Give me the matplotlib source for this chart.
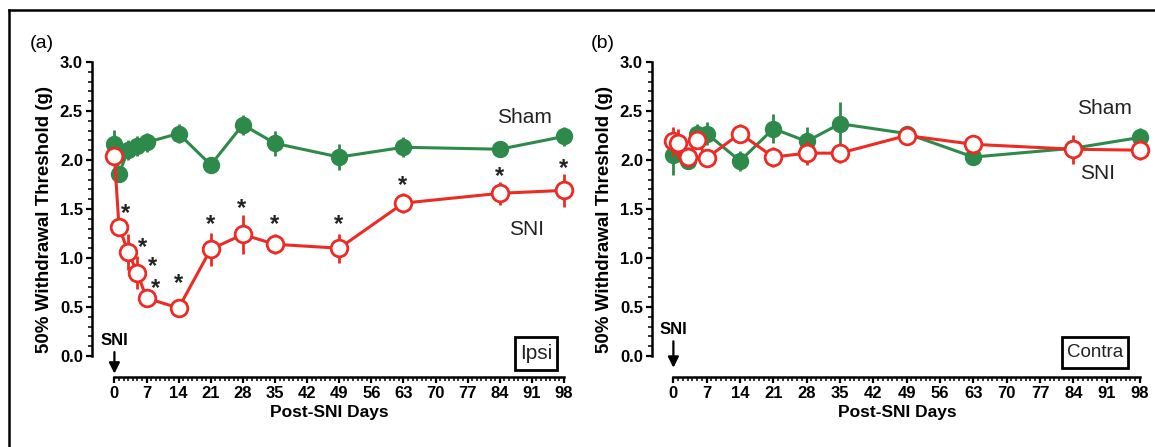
"""
Mechanical withdrawal thresholds after SNI, ipsilateral and contralateral paws.
"""
import numpy as np
import matplotlib.pyplot as plt
from matplotlib.lines import Line2D
from matplotlib.patches import Rectangle
from matplotlib.ticker import FixedLocator

plt.rcParams['font.family'] = ['Liberation Sans', 'DejaVu Sans']

GREEN = "#2e8a4a"
RED = "#ec2b24"

# ---- data ----
days = [0, 1, 3, 5, 7, 14, 21, 28, 35, 49, 63, 84, 98]

ipsi_sham = [2.16, 1.86, 2.10, 2.14, 2.18, 2.27, 1.95, 2.36, 2.17, 2.03, 2.13, 2.11, 2.24]
ipsi_sham_err = [0.15, 0.08, 0.10, 0.10, 0.10, 0.10, 0.05, 0.10, 0.13, 0.13, 0.10, 0.05, 0.10]
ipsi_sni = [2.04, 1.32, 1.06, 0.85, 0.59, 0.49, 1.09, 1.24, 1.14, 1.10, 1.56, 1.66, 1.69]
ipsi_sni_err = [0.05, 0.05, 0.18, 0.17, 0.05, 0.03, 0.17, 0.20, 0.10, 0.15, 0.10, 0.12, 0.17]

contra_sham = [2.05, 2.08, 1.99, 2.27, 2.27, 1.99, 2.32, 2.19, 2.37, 2.27, 2.03, 2.12, 2.23]
contra_sham_err = [0.20, 0.10, 0.08, 0.10, 0.12, 0.10, 0.15, 0.15, 0.22, 0.05, 0.08, 0.05, 0.10]
contra_sni = [2.19, 2.17, 2.03, 2.20, 2.02, 2.27, 2.03, 2.07, 2.07, 2.25, 2.16, 2.11, 2.10]
contra_sni_err = [0.15, 0.15, 0.10, 0.05, 0.05, 0.10, 0.10, 0.12, 0.10, 0.10, 0.10, 0.15, 0.10]

# significance stars (day position, height) for the ipsi panel
star_x = [2.5, 6.1, 8.3, 8.9, 13.9, 20.9, 27.7, 35.0, 48.9, 62.8, 83.9, 97.8]
star_y = [1.45, 1.11, 0.91, 0.69, 0.74, 1.34, 1.51, 1.34, 1.34, 1.74, 1.83, 1.91]

xticks = list(range(0, 99, 7))

W, H = 1155, 447
fig = plt.figure(figsize=(W / 100, H / 100), dpi=100)


def px_axes(left, right, top, bottom):
    return fig.add_axes([left / W, 1 - bottom / H, (right - left) / W, (bottom - top) / H])


def style_axes(ax, x0_px, x98_px, left_px):
    # y: 0 at 356 px, 3 at 62 px, axes bottom at 377 px
    ppu = (356 - 62) / 3.0
    ax.set_ylim(-(377 - 356) / ppu, 3.0)
    ppd = (x98_px - x0_px) / 98.0
    ax.set_xlim(-(x0_px - left_px) / ppd, 98 + 2 / ppd)
    for s in ["top", "right"]:
        ax.spines[s].set_visible(False)
    ax.spines["left"].set_bounds(0, 3)
    ax.spines["bottom"].set_bounds(0, 98)
    for s in ["left", "bottom"]:
        ax.spines[s].set_linewidth(1.8)
    ax.set_yticks(np.arange(0, 3.01, 0.5))
    ax.yaxis.set_minor_locator(FixedLocator(np.arange(0, 3.001, 0.1)))
    ax.set_xticks(xticks)
    ax.xaxis.set_minor_locator(FixedLocator(np.arange(0, 99, 1)))
    ax.tick_params(axis="both", which="major", length=4.5, width=1.6, labelsize=12, pad=2)
    ax.tick_params(axis="both", which="minor", length=3, width=1.1)
    for lab in ax.get_xticklabels() + ax.get_yticklabels():
        lab.set_fontweight("bold")
    ax.set_ylabel("50% Withdrawal Threshold (g)", fontsize=13.5, fontweight="bold", labelpad=5)
    ax.set_xlabel("Post-SNI Days", fontsize=12.5, fontweight="bold", labelpad=3)


def draw_series(ax, y, err, color, filled):
    face = color if filled else "white"
    ax.errorbar(days, y, yerr=err, color=color, lw=2.2, elinewidth=2.0, capsize=0,
                marker="o", markersize=10.5 if filled else 12, markerfacecolor=face,
                markeredgecolor=color, markeredgewidth=2.0, clip_on=False,
                zorder=3 if filled else 4)


def sni_arrow(ax, text_y, tail_y, head_y):
    ax.text(0, text_y, "SNI", ha="center", va="center", fontsize=12,
            fontweight="bold", clip_on=False)
    ax.annotate("", xy=(0, head_y), xytext=(0, tail_y),
                arrowprops=dict(arrowstyle="-|>", color="black", lw=1.6,
                                mutation_scale=16, shrinkA=0, shrinkB=0),
                annotation_clip=False)


def box_label(ax, text, x0_px, x1_px, y0_px, y1_px, size):
    fig.patches.append(Rectangle((x0_px / W, 1 - y1_px / H), (x1_px - x0_px) / W,
                                 (y1_px - y0_px) / H, transform=fig.transFigure,
                                 fill=False, ec="black", lw=2.0))
    fig.text((x0_px + x1_px) / 2 / W, 1 - (y0_px + y1_px) / 2 / H, text,
             ha="center", va="center", fontsize=size, color="#222222")


# ---- panel (a) ipsi ----
ax1 = px_axes(92, 566, 62, 377)
style_axes(ax1, 114.3, 561.7, 92)
draw_series(ax1, ipsi_sham, ipsi_sham_err, GREEN, True)
draw_series(ax1, ipsi_sni, ipsi_sni_err, RED, False)
for sx, sy in zip(star_x, star_y):
    ax1.text(sx, sy, "*", ha="center", va="center", fontsize=17, fontweight="bold",
             color="#222222")
ax1.text(89.4, 2.43, "Sham", ha="center", va="center", fontsize=15, color="#222222")
ax1.text(89.8, 1.29, "SNI", ha="center", va="center", fontsize=15, color="#222222")
sni_arrow(ax1, 0.16, 0.04, -0.18)
box_label(ax1, "Ipsi", 515, 557, 337, 370, 15)
fig.text(42 / W, 1 - 43 / H, "(a)", ha="center", va="center", fontsize=14)

# ---- panel (b) contra ----
ax2 = px_axes(652, 1142, 62, 377)
style_axes(ax2, 673.3, 1138, 652)
draw_series(ax2, contra_sham, contra_sham_err, GREEN, True)
draw_series(ax2, contra_sni, contra_sni_err, RED, False)
ax2.text(90.6, 2.53, "Sham", ha="center", va="center", fontsize=15, color="#222222")
ax2.text(89.0, 1.86, "SNI", ha="center", va="center", fontsize=15, color="#222222")
sni_arrow(ax2, 0.27, 0.15, -0.12)
box_label(ax2, "Contra", 1062, 1128, 337, 368, 13.5)
fig.text(603 / W, 1 - 43 / H, "(b)", ha="center", va="center", fontsize=14)

# figure frame (top and left edges)
fig.add_artist(Line2D([9 / W, 9 / W], [0, 1 - 10 / H], color="black", lw=1.8,
                      transform=fig.transFigure))
fig.add_artist(Line2D([9 / W, 1], [1 - 10 / H, 1 - 10 / H], color="black", lw=1.8,
                      transform=fig.transFigure))

fig.savefig("out.png", dpi=100)
